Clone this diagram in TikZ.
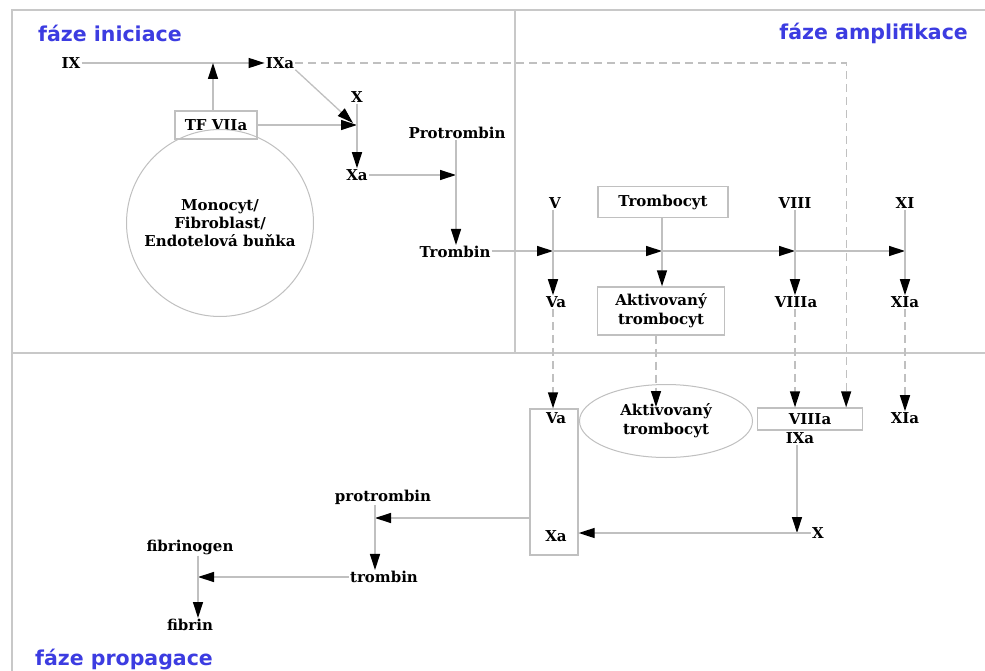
\documentclass[tikz,border=0pt]{standalone}
\usepackage{fontspec}
\setmainfont{DejaVu Serif}
\newfontfamily\lblfont{DejaVu Sans}
\usetikzlibrary{arrows.meta,shapes.geometric}
\definecolor{phasecol}{RGB}{60,60,225}
\definecolor{ln}{RGB}{192,192,192}
\definecolor{frm}{RGB}{200,200,200}
\begin{document}
\begin{tikzpicture}[x=1pt,y=-1pt,
  lab/.style={font=\bfseries\fontsize{15}{19}\selectfont, inner sep=1pt, align=center},
  phase/.style={font=\lblfont\bfseries\fontsize{20.5}{22}\selectfont, text=phasecol, inner sep=0pt},
  con/.style={draw=ln, line width=1.3pt},
  arr/.style={con, -{Triangle[length=16pt,width=10pt,color=black]}},
  darr/.style={arr, dash pattern=on 8pt off 5pt},
  box/.style={draw=ln, line width=1.3pt, inner sep=0pt, rectangle, lab},
  frame/.style={draw=frm, line width=1.8pt}
]
\fill[white] (0,0) rectangle (985,671);
\useasboundingbox (0,0) rectangle (985,671);
% frame
\draw[frame] (12,671) -- (12,10) -- (985,10);
\draw[frame] (515,10) -- (515,353);
\draw[frame] (12,353) -- (985,353);
% phase labels
\node[phase, anchor=west] (ph1) at (38,33) {fáze iniciace};
\node[phase, anchor=east] (ph2) at (968,33) {fáze amplifikace};
\node[phase, anchor=base west] (ph3) at (35,665) {fáze propagace};

% ---------- initiation ----------
\node[lab] (IX) at (71,63) {IX};
\node[lab] (IXa) at (280,63) {IXa};
\node[box, minimum width=82pt, minimum height=28pt] (tf) at (216,125) {TF VIIa};
\node[draw=ln, line width=1pt, circle, minimum size=187pt, lab, font=\bfseries\fontsize{15}{18}\selectfont] (cell) at (220,223) {Monocyt/\\Fibroblast/\\Endotelová buňka};
\node[lab] (X) at (357,97) {X};
\node[lab] (Xa) at (357,175) {Xa};
\node[lab] (prot) at (457,133) {Protrombin};
\node[lab] (trom) at (455,252) {Trombin};

\coordinate (jtf) at (213,63);
\coordinate (jx) at (357,125);
\coordinate (jxd) at (353,123);
\coordinate (jp) at (456,175);

\draw[arr] (IX.east) -- (IXa.west);
\draw[arr] (tf.north -| jtf) -- (jtf);
\draw[arr] (tf.east) -- (jx);
\draw[arr] (IXa.south east) -- (jxd);
\draw[arr] (X.south) -- (Xa.north);
\draw[arr] (Xa.east) -- (jp);
\draw[arr] (prot.south -| jp) -- (jp |- trom.north);

% ---------- amplification ----------
\node[lab] (V) at (555,203) {V};
\node[lab] (Va) at (556,302) {Va};
\node[box, minimum width=130pt, minimum height=31pt] (tb) at (663,202) {Trombocyt};
\node[box, minimum width=127pt, minimum height=48pt] (atb) at (661,311) {Aktivovaný\\trombocyt};
\node[lab] (VIII) at (795,203) {VIII};
\node[lab] (VIIIa) at (796,302) {VIIIa};
\node[lab] (XI) at (905,203) {XI};
\node[lab] (XIa) at (905,302) {XIa};

\coordinate (jv) at (553,251);
\coordinate (jt) at (662,251);
\coordinate (jviii) at (795,251);
\coordinate (jxi) at (905,251);

\draw[arr] (trom.east |- jv) -- (jv);
\draw[arr] (jv) -- (jt);
\draw[arr] (jt) -- (jviii);
\draw[arr] (jviii) -- (jxi);
\draw[arr] (V.south -| jv) -- (Va.north -| jv);
\draw[arr] (tb.south -| jt) -- (atb.north -| jt);
\draw[arr] (VIII.south -| jviii) -- (VIIIa.north -| jviii);
\draw[arr] (XI.south) -- (XIa.north);

% ---------- propagation ----------
\node[box, minimum width=48pt, minimum height=146pt] (tall) at (554,482) {};
\node[lab] (Va2) at (556,418) {Va};
\node[lab] (Xa2) at (556,536) {Xa};
\node[draw=ln, line width=1pt, ellipse, minimum width=173pt, minimum height=73pt, lab] (ell) at (666,421) {Aktivovaný\\trombocyt};
\node[box, minimum width=105pt, minimum height=22pt] (viiib) at (810,419) {VIIIa};
\node[lab] (IXa2) at (800,438) {IXa};
\node[lab] (XIa2) at (905,418) {XIa};
\node[lab] (X2) at (818,533) {X};
\node[lab] (prot2) at (383,497) {protrombin};
\node[lab] (trom2) at (384,577) {trombin};
\node[lab] (fbg) at (190,547) {fibrinogen};
\node[lab] (fib) at (190,625) {fibrin};

\coordinate (jatb) at (656,407);
\draw[darr] (Va.south -| jv) -- (tall.north -| jv);
\draw[darr] (atb.south -| jatb) -- (jatb);
\draw[darr] (VIIIa.south -| jviii) -- (viiib.north -| jviii);
\draw[darr] (XIa.south) -- (XIa2.north);
\draw[darr] (IXa.east) -| ([xshift=-17pt]viiib.north east);

\coordinate (jx2) at (797,533);
\coordinate (jp2) at (375,518);
\coordinate (jf) at (198,577);
\draw[arr] (IXa2.south -| jx2) -- (jx2);
\draw[arr] (X2.west) -- (tall.east |- X2);
\draw[arr] (tall.west |- jp2) -- (jp2);
\draw[arr] (prot2.south -| jp2) -- (jp2 |- trom2.north);
\draw[arr] (trom2.west) -- (jf);
\draw[arr] (fbg.south -| jf) -- (jf |- fib.north);
\end{tikzpicture}
\end{document}
